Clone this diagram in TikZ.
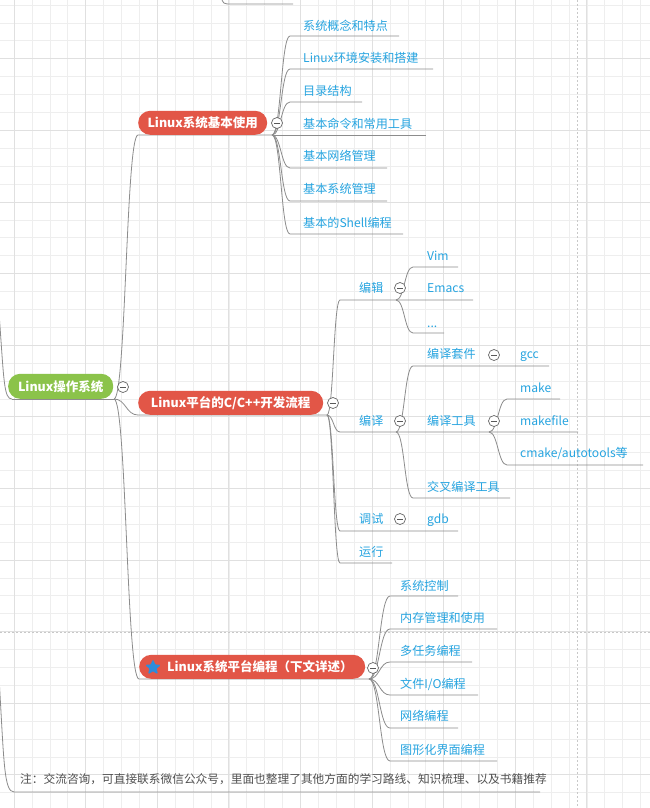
\documentclass[tikz,border=0pt]{standalone}
\usepackage{fontspec}
\setmainfont{Noto Sans CJK SC}
\usetikzlibrary{calc,shapes.geometric}
\definecolor{lb}{RGB}{38,164,224}
\definecolor{lg}{RGB}{140,140,140}
\definecolor{redn}{RGB}{226,86,71}
\definecolor{greenn}{RGB}{139,195,74}
\definecolor{gminor}{RGB}{238,238,238}
\definecolor{gmajor}{RGB}{224,224,224}
\definecolor{pbreak}{RGB}{200,200,200}
\definecolor{starb}{RGB}{45,140,220}
\definecolor{foottxt}{RGB}{80,80,80}
\begin{document}
\begin{tikzpicture}[x=1pt,y=-1pt,
  conn/.style={draw=lg,line width=0.8pt},
  sc/.style={to path={let \p1=(\tikztostart), \p2=(\tikztotarget) in
     .. controls ({(\x1+\x2)/2},\y1) and ({(\x1+\x2)/2},\y2) .. (\tikztotarget) \tikztonodes}},
  leaf/.style={anchor=west,inner sep=0pt,text=lb,font=\fontsize{12.1}{14}\selectfont,text height=11.6pt,text depth=2.4pt},
  pill/.style={rectangle,rounded corners=12pt,inner sep=0pt,text=white,font=\bfseries\fontsize{12.5}{14}\selectfont,text height=11.8pt,text depth=2.4pt},
  redbox/.style={pill,fill=redn,minimum height=24pt},
  greenbox/.style={pill,fill=greenn,minimum height=25pt},
  toggle/.style={circle,draw=black!60,line width=0.7pt,fill=white,minimum size=11pt,inner sep=0pt,
     path picture={\draw[black!65,line width=0.9pt] ([xshift=-2.8pt]path picture bounding box.center) -- ([xshift=2.8pt]path picture bounding box.center);}},
  foot/.style={anchor=west,inner sep=0pt,text=foottxt,font=\fontsize{11.7}{14}\selectfont,text height=11.2pt,text depth=2.3pt}
]
\useasboundingbox (0,0) rectangle (650,808);
\fill[white] (0,0) rectangle (650,808);
\begin{scope}
\clip (0,0) rectangle (650,808);
% grid
\foreach \i in {0,...,36} \draw[gminor,line width=0.6pt] ({14+17.9*\i},0) -- ++(0,808);
\foreach \j in {0,...,45} \draw[gminor,line width=0.6pt] (0,{5+17.9*\j}) -- ++(650,0);
\foreach \i in {0,...,9} \draw[gmajor,line width=0.7pt] ({14+71.6*\i},0) -- ++(0,808);
\foreach \j in {0,...,11} \draw[gmajor,line width=0.7pt] (0,{-12.9+71.6*\j}) -- ++(650,0);
% page breaks
\draw[pbreak,line width=0.5pt,dash pattern=on 2pt off 2pt] (577,0) -- (577,808);
\draw[pbreak,line width=0.5pt,dash pattern=on 2pt off 2pt] (0,632) -- (650,632);

% stray connectors from parents outside the view
\coordinate (topu) at (232,4);
\draw[conn] (221,-4) .. controls (223,4) .. (topu) -- (293,4);
\coordinate (rootu) at (12,399);
\draw[conn] (-0.6,318) .. controls (4,382) and (4,399) .. (rootu);
\coordinate (footu) at (14,792);
\draw[conn] (-0.6,684) .. controls (4,762) and (4,792) .. (footu) -- (540,792);

% ---------- connection points ----------
\coordinate (r) at (114,399);
\coordinate (p1) at (272,135);
\coordinate (p2) at (327,415);
\coordinate (p3) at (369,679);

% root connectors (drawn first so boxes cover)
\coordinate (n1sw) at (138,135);
\coordinate (n2sw) at (138,415);
\coordinate (n3sw) at (139,679);
\draw[conn] (r) to[sc] (n1sw) -- (p1);
\draw[conn] (r) to[sc] (n2sw) -- (p2);
\draw[conn] (r) to[sc] (n3sw) -- (p3);
\draw[conn] (rootu) -- (r);

% ---- branch 1 children ----
\foreach \yy/\ex in {36/399,69/433,102/362,168/387,201/387,234/403}
  \draw[conn] (p1) to[sc] (290,\yy) -- (\ex,\yy);
\draw[conn] (p1) -- (426,135);

% ---- branch 2 children ----
\coordinate (q1) at (396,300);
\coordinate (q2) at (396,432);
\coordinate (q3) at (489,432);
\draw[conn] (p2) to[sc] (340,300) -- (q1) -- (473,300);
\draw[conn] (q1) to[sc] (413,267) -- (458,267);
\draw[conn] (q1) to[sc] (413,333) -- (444,333);
\draw[conn] (p2) to[sc] (340,432) -- (q2) -- (q3) -- (578,432);
\draw[conn] (q2) to[sc] (413,366) -- (549,366);
\draw[conn] (q2) to[sc] (413,498) -- (510,498);
\draw[conn] (q3) to[sc] (507,399) -- (560,399);
\draw[conn] (q3) to[sc] (507,465) -- (643,465);
\draw[conn] (p2) to[sc] (340,531) -- (458,531);
\draw[conn] (p2) to[sc] (340,563) -- (392,563);

% ---- branch 3 children ----
\foreach \yy/\ex in {596/458,629/497,662/472,695/478,728/458,761/497}
  \draw[conn] (p3) to[sc] (390,\yy) -- (\ex,\yy);
\end{scope}

% ---------- boxes ----------
\node[greenbox,minimum width=105pt,anchor=south west] (root) at (8,399) {Linux操作系统};
\node[redbox,minimum width=129pt,anchor=south west] (n1) at (n1sw) {Linux系统基本使用};
\node[redbox,minimum width=185pt,anchor=south west] (n2) at (n2sw) {Linux平台的C/C++开发流程};
\node[redbox,minimum width=226pt,anchor=south west] (n3) at (n3sw) {};
\node[star,star points=5,star point ratio=2.3,fill=starb,draw=starb,line width=0.8pt,rounded corners=0.8pt,minimum size=15pt,inner sep=0pt] (st) at (153,667.5) {};
\node[pill,anchor=west] (n3t) at (167,667) {Linux系统平台编程（下文详述）};

% toggles
\node[toggle] (t0) at (123,387) {};
\node[toggle] (t1) at (277,123) {};
\node[toggle] (t2) at (333,403) {};
\node[toggle] (t3) at (373,668) {};
\node[toggle] (t21) at (400,288) {};
\node[toggle] (t22) at (400,421) {};
\node[toggle] (t221) at (494,355) {};
\node[toggle] (t222) at (494,421) {};
\node[toggle] (t23) at (400,519) {};

% ---------- leaves ----------
\node[leaf] (a1) at (303,26) {系统概念和特点};
\node[leaf] (a2) at (303,58) {Linux环境安装和搭建};
\node[leaf] (a3) at (303,91) {目录结构};
\node[leaf] (a4) at (303,124) {基本命令和常用工具};
\node[leaf] (a5) at (303,156) {基本网络管理};
\node[leaf] (a6) at (303,189) {基本系统管理};
\node[leaf] (a7) at (303,223) {基本的Shell编程};

\node[leaf] (b1) at (359,288) {编辑};
\node[leaf] (b11) at (427,256) {Vim};
\node[leaf] (b12) at (427,288) {Emacs};
\node[leaf] (b13) at (427,323) {...};
\node[leaf] (b2) at (359,421) {编译};
\node[leaf] (b21) at (427,354) {编译套件};
\node[leaf] (b211) at (520,354) {gcc};
\node[leaf] (b22) at (427,421) {编译工具};
\node[leaf] (b221) at (520,388) {make};
\node[leaf] (b222) at (520,421) {makefile};
\node[leaf] (b223) at (520,453) {cmake/autotools等};
\node[leaf] (b23) at (427,487) {交叉编译工具};
\node[leaf] (b3) at (359,519) {调试};
\node[leaf] (b31) at (427,519) {gdb};
\node[leaf] (b4) at (359,552) {运行};

\node[leaf] (c1) at (400,586) {系统控制};
\node[leaf] (c2) at (400,618) {内存管理和使用};
\node[leaf] (c3) at (400,651) {多任务编程};
\node[leaf] (c4) at (400,684) {文件I/O编程};
\node[leaf] (c5) at (400,716) {网络编程};
\node[leaf] (c6) at (400,750) {图形化界面编程};

\node[foot] (ft) at (20,779) {注：交流咨询，可直接联系微信公众号，里面也整理了其他方面的学习路线、知识梳理、以及书籍推荐};
\end{tikzpicture}
\end{document}
